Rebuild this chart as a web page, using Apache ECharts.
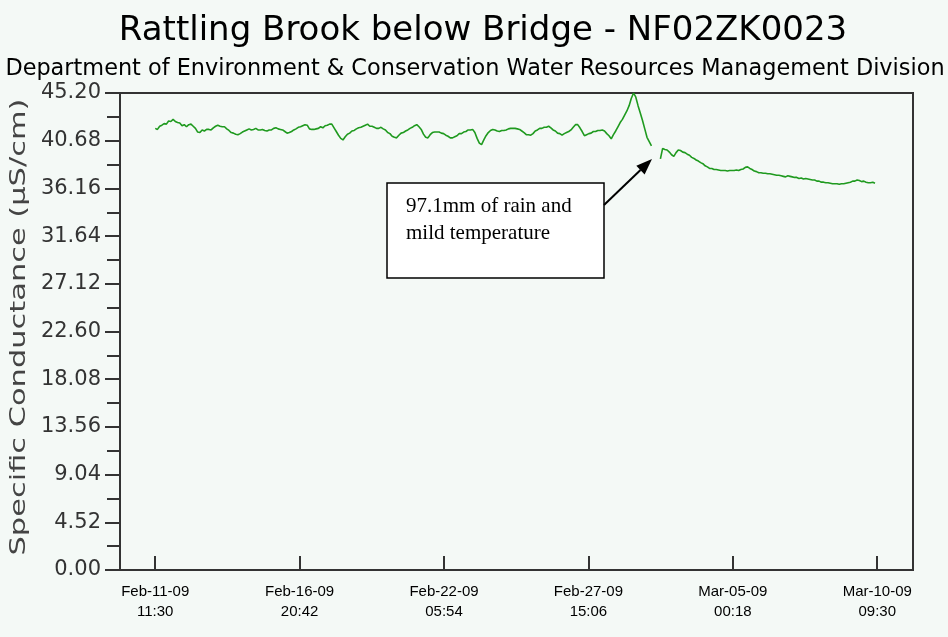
<!DOCTYPE html>
<html>
<head>
<meta charset="utf-8">
<script src="https://cdn.jsdelivr.net/npm/echarts@6/dist/echarts.min.js"></script>
<style>
html,body{margin:0;padding:0;background:#f4f9f6;}
#chart{width:948px;height:637px;}
</style>
</head>
<body>
<div id="chart"></div>
<script>
// Hours since Feb-11-09 11:30
const hours = [0,2,4,6,8,10,12,14,16,18,20,22,24,26,28,30,32,34,36,38,40,42,44,46,48,50,52,54,56,58,60,62,64,66,68,70,72,74,76,78,80,82,84,86,88,90,92,94,96,98,
100,102,104,106,108,110,112,114,116,118,120,122,124,126,128,130,132,134,136,138,140,142,144,146,148,150,152,154,156,158,160,162,164,166,168,170,172,174,176,178,180,182,184,186,188,190,192,194,196,198,
200,202,204,206,208,210,212,214,216,218,220,222,224,226,228,230,232,234,236,238,240,242,244,246,248,250,252,254,256,258,260,262,264,266,268,270,272,274,276,278,280,282,284,286,288,290,292,294,296,298,
300,302,304,306,308,310,312,314,316,318,320,322,324,326,328,330,332,334,336,338,340,342,344,346,348,350,352,354,356,358,360,362,364,366,368,370,372,374,376,378,380,382,384,386,388,390,392,394,396,398,
400,402,404,406,408,410,412,414,416,418,420,422,424,426,428,430,432,434,436,438,440,442,444,446,448,450,452,454,456,458,460,462,464,466,468,470,472,474,476,478,480,482,484,486,488,490,492,494,496,498,
500,502,504,506,508,510,512,514,516,518,520,522,524,526,528,530,532,534,536,538,540,542,544,546,548,550,552,554,556,558,560,562,564,566,568,570,572,574,576,578,580,582,584,586,588,590,592,594,596,598,
600,602,604,606,608,610,612,614,616,618,620,622,624,626,628,630,632,634,636,638,640,642,644];
const conductance = [41.85,41.75,42.05,42.15,42.3,42.25,42.55,42.5,42.7,42.5,42.4,42.35,42.1,42.2,42.0,42.2,42.25,42.05,41.85,41.5,41.45,41.7,41.6,41.75,41.75,41.7,41.9,42.05,42.15,42.05,42.0,42.0,41.8,41.65,41.45,41.4,41.3,41.25,41.35,41.5,41.6,41.7,41.8,41.7,41.75,41.85,41.7,41.7,41.75,41.65,
41.6,41.7,41.7,41.85,41.9,41.8,41.75,41.7,41.55,41.4,41.45,41.55,41.7,41.8,41.95,42.0,42.1,42.2,42.15,41.8,41.75,41.75,41.8,41.85,42.0,41.9,42.1,42.15,42.25,42.25,41.9,41.55,41.2,40.9,40.75,41.05,41.3,41.4,41.6,41.65,41.8,41.9,41.95,42.05,42.15,42.25,42.05,42.05,41.95,41.85,
41.85,41.95,41.8,41.7,41.45,41.35,41.1,41.0,40.95,41.2,41.4,41.45,41.6,41.7,41.85,41.95,42.1,42.2,42.0,41.75,41.3,41.0,40.95,41.25,41.45,41.5,41.5,41.5,41.4,41.35,41.2,41.1,40.95,40.95,41.05,41.15,41.35,41.35,41.5,41.55,41.7,41.7,41.75,41.45,40.9,40.45,40.3,40.75,41.15,41.45,
41.65,41.75,41.7,41.6,41.55,41.65,41.65,41.7,41.8,41.85,41.85,41.85,41.8,41.75,41.6,41.45,41.25,41.25,41.2,41.35,41.6,41.7,41.85,41.85,41.95,41.95,42.05,41.9,41.7,41.6,41.4,41.35,41.2,41.35,41.45,41.55,41.7,41.95,42.2,42.2,41.9,41.55,41.15,41.25,41.35,41.4,41.55,41.55,41.65,41.65,
41.7,41.6,41.35,41.15,40.85,41.25,41.6,42.0,42.4,42.7,43.1,43.5,44.0,44.7,45.2,44.8,44.0,43.3,42.6,41.8,41.0,40.6,40.2,null,null,null,38.95,39.95,39.85,39.8,39.6,39.35,39.2,39.55,39.8,39.75,39.6,39.55,39.4,39.3,39.1,39.0,38.85,38.75,38.6,38.5,38.3,38.2,38.05,38.05,
37.95,37.95,37.9,37.85,37.85,37.85,37.8,37.85,37.85,37.85,37.9,37.85,37.95,38.0,38.15,38.2,38.05,37.95,37.8,37.75,37.65,37.65,37.6,37.6,37.55,37.55,37.5,37.45,37.4,37.4,37.35,37.3,37.25,37.35,37.3,37.25,37.2,37.2,37.1,37.15,37.05,37.1,37.05,37.0,36.95,36.95,36.85,36.85,36.75,36.75,
36.7,36.7,36.65,36.6,36.6,36.6,36.55,36.6,36.6,36.65,36.7,36.75,36.85,36.85,36.95,36.9,36.8,36.85,36.75,36.7,36.7,36.75,36.65];
const xTickHours = [0,129.2,258.4,387.6,516.8,646];
const xTickLabels = ["Feb-11-09\n11:30","Feb-16-09\n20:42","Feb-22-09\n05:54","Feb-27-09\n15:06","Mar-05-09\n00:18","Mar-10-09\n09:30"];
const titleText = "Rattling Brook below Bridge - NF02ZK0023";
const subtitleText = "Department of Environment & Conservation Water Resources Management Division";
const yAxisTitle = "Specific Conductance (\u00b5S/cm)";
const noteLines = ["97.1mm of rain and", "mild temperature"];

const chart = echarts.init(document.getElementById('chart'), null, {renderer:'canvas'});
const seriesData = hours.map((h,i)=>[h, conductance[i]]);

chart.setOption({
  backgroundColor:'#f4f9f6',
  animation:false,
  title:[
    {text:titleText, left:478, top:9, textAlign:'center',
     textStyle:{fontFamily:'DejaVu Sans', fontSize:34, fontWeight:'normal', color:'#000'}},
    {text:subtitleText, left:470, top:53, textAlign:'center',
     textStyle:{fontFamily:'DejaVu Sans', fontSize:22.4, fontWeight:'normal', color:'#000'}}
  ],
  grid:{left:120, top:93, right:35, bottom:67, show:true, borderColor:'#333', borderWidth:2, backgroundColor:'transparent'},
  xAxis:{
    type:'value', min:-31.5, max:678,
    axisLine:{show:true, onZero:false, lineStyle:{color:'#333', width:2}},
    axisTick:{show:true, inside:true, length:14, customValues:xTickHours, lineStyle:{color:'#333', width:2}},
    axisLabel:{customValues:xTickHours, margin:12, fontSize:15, lineHeight:20, color:'#000',
      fontFamily:'Liberation Sans, Arial',
      formatter:(v)=>{const i=xTickHours.findIndex(t=>Math.abs(t-v)<0.01);return i>=0?xTickLabels[i]:'';}},
    splitLine:{show:false}
  },
  yAxis:{
    type:'value', min:0, max:45.2, interval:4.52,
    axisLine:{show:true, onZero:false, lineStyle:{color:'#333', width:2}},
    axisTick:{show:true, inside:false, length:15, lineStyle:{color:'#333', width:2}},
    minorTick:{show:true, splitNumber:2, length:13, lineStyle:{color:'#333', width:2}},
    axisLabel:{margin:19, fontSize:21, color:'#333', fontFamily:'DejaVu Sans',
      formatter:(v)=>v.toFixed(2)},
    splitLine:{show:false}
  },
  series:[{
    type:'line', data:seriesData, showSymbol:false, connectNulls:false,
    lineStyle:{color:'#1f9a1f', width:1.6}, z:3
  }],
  graphic:[
    {type:'text', x:20, y:327, rotation:Math.PI/2, scaleX:1.45,
     style:{text:yAxisTitle, font:'21px "DejaVu Sans"', fill:'#444', align:'center', verticalAlign:'middle'}, z:5},
    {type:'rect', shape:{x:387, y:183, width:217, height:95}, style:{fill:'#fff', stroke:'#000', lineWidth:1.5}, z:10},
    {type:'text', left:406, top:193, style:{text:noteLines.join('\n'), font:'21px "Liberation Serif", "Times New Roman", serif', fill:'#000', lineHeight:27}, z:11},
    {type:'line', shape:{x1:604, y1:205, x2:640.5, y2:170}, style:{stroke:'#000', lineWidth:2}, z:11},
    {type:'polygon', shape:{points:[[652,159],[644.6,174.4],[636.3,165.7]]}, style:{fill:'#000'}, z:11}
  ]
});
</script>
</body>
</html>
